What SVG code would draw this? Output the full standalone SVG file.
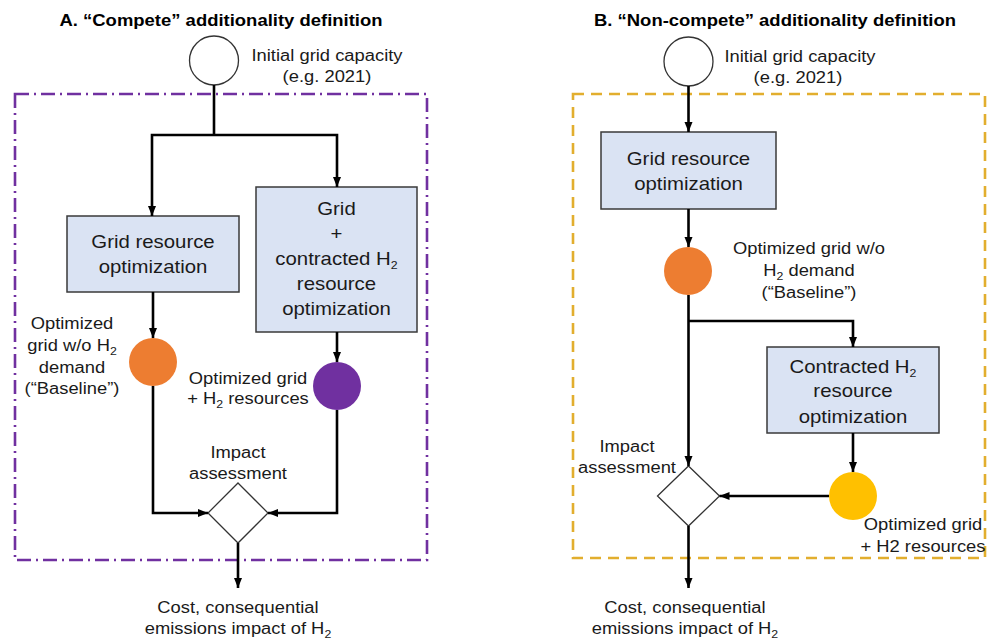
<svg xmlns="http://www.w3.org/2000/svg" width="987" height="639" viewBox="0 0 987 639">
  <style>
    .t { font-family: "Liberation Sans", Arial, sans-serif; fill: #1a1a1a; text-anchor: middle;
         transform-box: fill-box; transform-origin: center; transform: scaleX(1.12); }
    .title { font-size: 16.5px; font-weight: bold; fill: #000; }
    .lbl { font-size: 16.4px; }
    .box-t { font-size: 18.2px; }
    .sub { font-size: 11px; }
    .box { fill: #DAE3F3; stroke: #3a3a3a; stroke-width: 1.5; }
    .start { fill: #fff; stroke: #333; stroke-width: 1.3; }
    .dia { fill: #fff; stroke: #333; stroke-width: 1.3; }
    .conn { fill: none; stroke: #000; stroke-width: 2.6; stroke-linejoin: miter; }
    .frameA { fill: none; stroke: #7030A0; stroke-width: 2.6; stroke-dasharray: 14 5 2 5; }
    .frameB { fill: none; stroke: #E2AE2E; stroke-width: 2.6; stroke-dasharray: 11 7; }
  </style>
  <defs>
    <marker id="arrow" markerUnits="userSpaceOnUse" markerWidth="10" markerHeight="10" viewBox="0 0 10 10" refX="10" refY="5" orient="auto">
      <path d="M0,1 L10,5 L0,9 Z" fill="#000"/>
    </marker>
  </defs>

  <rect width="987" height="639" fill="#fff"/>

  <!-- Panel A: compete -->
  <text class="t title" x="221" y="26.5">A. “Compete” additionality definition</text>
  <rect class="frameA" x="15" y="94" width="412" height="466"/>

  <g id="a-initial">
    <circle class="start" cx="214" cy="60.5" r="24.5"/>
    <text class="t lbl" x="327" y="61">Initial grid capacity</text>
    <text class="t lbl" x="327" y="82">(e.g. 2021)</text>
  </g>
  <g id="a-grid-opt">
    <rect class="box" x="67" y="216" width="172" height="76"/>
    <text class="t box-t" x="153" y="248">Grid resource</text>
    <text class="t box-t" x="153" y="273">optimization</text>
  </g>
  <g id="a-grid-h2-opt">
    <rect class="box" x="256" y="187" width="161" height="145"/>
    <text class="t box-t" x="336.5" y="215">Grid</text>
    <text class="t box-t" x="336.5" y="240">+</text>
    <text class="t box-t" x="336.5" y="265">contracted H<tspan class="sub" dy="4">2</tspan></text>
    <text class="t box-t" x="336.5" y="290">resource</text>
    <text class="t box-t" x="336.5" y="315">optimization</text>
  </g>
  <g id="a-baseline">
    <circle cx="153" cy="362" r="24" fill="#ED7D31"/>
    <text class="t lbl" x="72" y="329">Optimized</text>
    <text class="t lbl" x="72" y="351">grid w/o H<tspan class="sub" dy="4">2</tspan></text>
    <text class="t lbl" x="72" y="373">demand</text>
    <text class="t lbl" x="72" y="394">(“Baseline”)</text>
  </g>
  <g id="a-h2-result">
    <circle cx="337" cy="386" r="24" fill="#7030A0"/>
    <text class="t lbl" x="248" y="384">Optimized grid</text>
    <text class="t lbl" x="248" y="404">+ H<tspan class="sub" dy="4">2</tspan><tspan dy="-4"> resources</tspan></text>
  </g>
  <g id="a-impact">
    <path class="dia" d="M238,483 L268,513 L238,543 L208,513 Z"/>
    <text class="t lbl" x="238" y="458">Impact</text>
    <text class="t lbl" x="238" y="479">assessment</text>
  </g>
  <g id="a-output">
    <text class="t lbl" x="238" y="613">Cost, consequential</text>
    <text class="t lbl" x="238" y="634">emissions impact of H<tspan class="sub" dy="4">2</tspan></text>
  </g>

  <!-- Panel B: non-compete -->
  <text class="t title" x="775" y="26.5">B. “Non-compete” additionality definition</text>
  <rect class="frameB" x="573" y="94" width="412" height="464"/>

  <g id="b-initial">
    <circle class="start" cx="688.5" cy="61.5" r="24.5"/>
    <text class="t lbl" x="800" y="62">Initial grid capacity</text>
    <text class="t lbl" x="798" y="83">(e.g. 2021)</text>
  </g>
  <g id="b-grid-opt">
    <rect class="box" x="601" y="132" width="175" height="77"/>
    <text class="t box-t" x="688.5" y="165">Grid resource</text>
    <text class="t box-t" x="688.5" y="190">optimization</text>
  </g>
  <g id="b-baseline">
    <circle cx="688" cy="271" r="24" fill="#ED7D31"/>
    <text class="t lbl" x="809" y="254">Optimized grid w/o</text>
    <text class="t lbl" x="809" y="276">H<tspan class="sub" dy="4">2</tspan><tspan dy="-4"> demand</tspan></text>
    <text class="t lbl" x="809" y="298">(“Baseline”)</text>
  </g>
  <g id="b-h2-opt">
    <rect class="box" x="767" y="347" width="172" height="86"/>
    <text class="t box-t" x="853" y="373">Contracted H<tspan class="sub" dy="4">2</tspan></text>
    <text class="t box-t" x="853" y="397">resource</text>
    <text class="t box-t" x="853" y="423">optimization</text>
  </g>
  <g id="b-h2-result">
    <circle cx="853" cy="496" r="24" fill="#FFC000"/>
    <text class="t lbl" x="923" y="530">Optimized grid</text>
    <text class="t lbl" x="923" y="552">+ H2 resources</text>
  </g>
  <g id="b-impact">
    <path class="dia" d="M688.5,466 L719.5,496 L688.5,526 L657.5,496 Z"/>
    <text class="t lbl" x="627" y="452">Impact</text>
    <text class="t lbl" x="627" y="473">assessment</text>
  </g>
  <g id="b-output">
    <text class="t lbl" x="685" y="613">Cost, consequential</text>
    <text class="t lbl" x="685" y="634">emissions impact of H<tspan class="sub" dy="4">2</tspan></text>
  </g>

  <!-- Connectors -->
  <g id="connectors">
    <path class="conn" d="M214,85 V135"/>
    <path class="conn" d="M214,135 H152 V216" marker-end="url(#arrow)"/>
    <path class="conn" d="M214,135 H337 V187" marker-end="url(#arrow)"/>
    <path class="conn" d="M153,292 V338" marker-end="url(#arrow)"/>
    <path class="conn" d="M337,332 V362" marker-end="url(#arrow)"/>
    <path class="conn" d="M153,386 V513 H208" marker-end="url(#arrow)"/>
    <path class="conn" d="M337,410 V513 H268" marker-end="url(#arrow)"/>
    <path class="conn" d="M238,543 V588" marker-end="url(#arrow)"/>

    <path class="conn" d="M688.5,86 V132" marker-end="url(#arrow)"/>
    <path class="conn" d="M688.5,209 V247" marker-end="url(#arrow)"/>
    <path class="conn" d="M688.5,295 V466" marker-end="url(#arrow)"/>
    <path class="conn" d="M688.5,321 H853 V347" marker-end="url(#arrow)"/>
    <path class="conn" d="M853,433 V472" marker-end="url(#arrow)"/>
    <path class="conn" d="M829,496 H719.5" marker-end="url(#arrow)"/>
    <path class="conn" d="M688.5,526 V588" marker-end="url(#arrow)"/>
  </g>
</svg>
